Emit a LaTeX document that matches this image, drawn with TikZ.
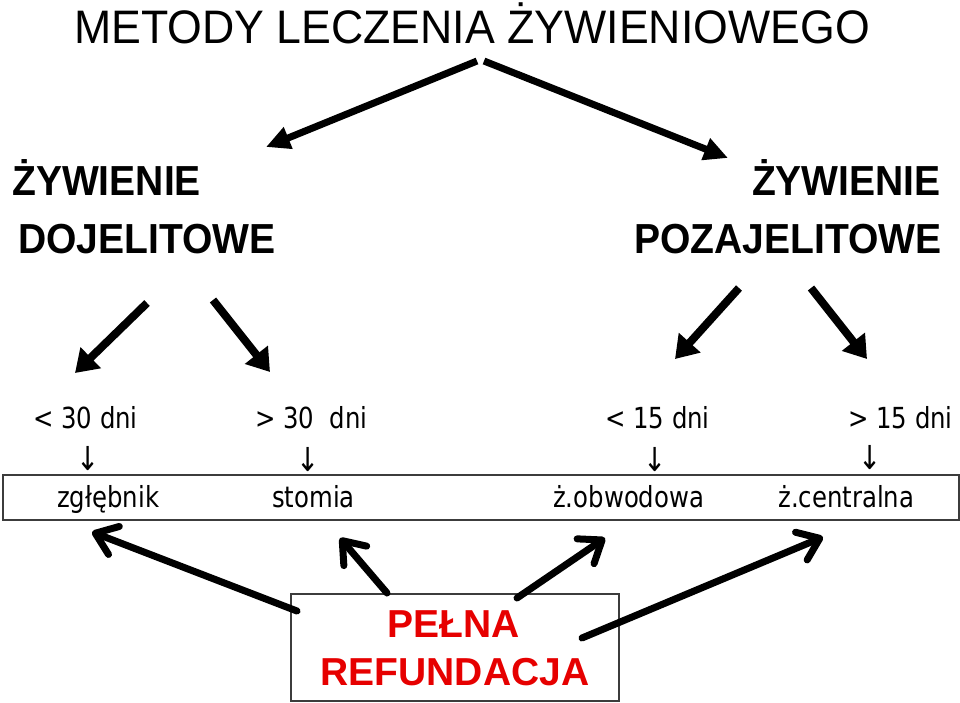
\documentclass[tikz,border=0pt]{standalone}
\usepackage{fontspec}
\setmainfont{Liberation Sans}
\newfontfamily\dvfont[FakeStretch=0.84]{DejaVu Sans}
\newfontfamily\titlefont[FakeStretch=0.95]{Liberation Sans}
\newfontfamily\headfont[FakeStretch=0.93]{Liberation Sans}
\usetikzlibrary{arrows.meta}
\definecolor{refred}{RGB}{230,0,0}
\definecolor{boxgray}{RGB}{60,60,60}
\begin{document}
\begin{tikzpicture}[x=1pt,y=-1pt,
  titletxt/.style={font=\titlefont\fontsize{47}{54}\selectfont, inner sep=0},
  headtxt/.style={font=\headfont\fontsize{42}{48}\selectfont\bfseries, inner sep=0},
  smalltxt/.style={font=\dvfont\fontsize{29}{34}\selectfont, inner sep=0},
  downtxt/.style={font=\dvfont\fontsize{33}{36}\selectfont, inner sep=0},
  refundtxt/.style={font=\fontsize{39}{46}\selectfont\bfseries, text=refred, inner sep=0},
  boxstyle/.style={draw=boxgray, line width=1.5pt, inner sep=0},
  bigarrow/.style={line width=7pt, -{Triangle[length=24pt 0 0,width=22pt 0 0]}},
  midarrow/.style={line width=8pt, -{Triangle[length=22pt 0 0,width=28pt 0 0]}},
  openarrow/.style={line width=7pt, line cap=round, -{Straight Barb[length=20pt 0 0,width=30pt 0 0,round]}}
]
\useasboundingbox (0,0) rectangle (960,702);

% title
\node[titletxt, anchor=base] (title) at (472,43) {METODY LECZENIA ŻYWIENIOWEGO};

% level 1
\node[headtxt, anchor=base west] (l1a) at (12,195) {ŻYWIENIE};
\node[headtxt, anchor=base west] (l1b) at (18,253) {DOJELITOWE};
\node[headtxt, anchor=base east] (r1a) at (941,195) {ŻYWIENIE};
\node[headtxt, anchor=base east] (r1b) at (942,253) {POZAJELITOWE};

% level 2 labels
\node[smalltxt, anchor=base west] (d1) at (33,428) {< 30 dni};
\node[smalltxt, anchor=base west] (d2) at (255,428) {> 30~~dni};
\node[smalltxt, anchor=base west] (d3) at (605,428) {< 15 dni};
\node[smalltxt, anchor=base west] (d4) at (848,428) {> 15 dni};

% small down arrows
\node[downtxt] (a1) at (88,459) {↓};
\node[downtxt] (a2) at (308,460) {↓};
\node[downtxt] (a3) at (655,460) {↓};
\node[downtxt] (a4) at (870,458) {↓};

% options box
\node[boxstyle, anchor=north west, minimum width=956pt, minimum height=45pt] (optbox) at (2,474) {};
\node[smalltxt, anchor=base west] (o1) at (57,507) {zgłębnik};
\node[smalltxt, anchor=base west] (o2) at (272,507) {stomia};
\node[smalltxt, anchor=base west] (o3) at (553,507) {ż.obwodowa};
\node[smalltxt, anchor=base west] (o4) at (778,507) {ż.centralna};

% refund box
\node[boxstyle, anchor=north west, minimum width=328pt, minimum height=107pt] (refbox) at (290,593) {};
\node[refundtxt, anchor=base] (p1) at (454,637) {PEŁNA};
\node[refundtxt, anchor=base] (p2) at (455,685) {REFUNDACJA};

% arrow coordinates
\coordinate (t0a) at (477,61);
\coordinate (t1a) at (266,147);
\coordinate (t0b) at (484,61);
\coordinate (t1b) at (728,158);

\coordinate (m0a) at (147,303);
\coordinate (m1a) at (75,373);
\coordinate (m0b) at (213,300);
\coordinate (m1b) at (270,372);
\coordinate (m0c) at (739,288);
\coordinate (m1c) at (675,359);
\coordinate (m0d) at (811,288);
\coordinate (m1d) at (867,359);

\coordinate (b0a) at (297,611);
\coordinate (b1a) at (92,532);
\coordinate (b0b) at (387,593);
\coordinate (b1b) at (340,538);
\coordinate (b0c) at (517,598);
\coordinate (b1c) at (605,538);
\coordinate (b0d) at (582,638);
\coordinate (b1d) at (823,537);

\draw[bigarrow] (t0a) -- (t1a);
\draw[bigarrow] (t0b) -- (t1b);

\draw[midarrow] (m0a) -- (m1a);
\draw[midarrow] (m0b) -- (m1b);
\draw[midarrow] (m0c) -- (m1c);
\draw[midarrow] (m0d) -- (m1d);

\draw[openarrow] (b0a) -- (b1a);
\draw[openarrow] (b0b) -- (b1b);
\draw[openarrow] (b0c) -- (b1c);
\draw[openarrow] (b0d) -- (b1d);
\end{tikzpicture}
\end{document}
